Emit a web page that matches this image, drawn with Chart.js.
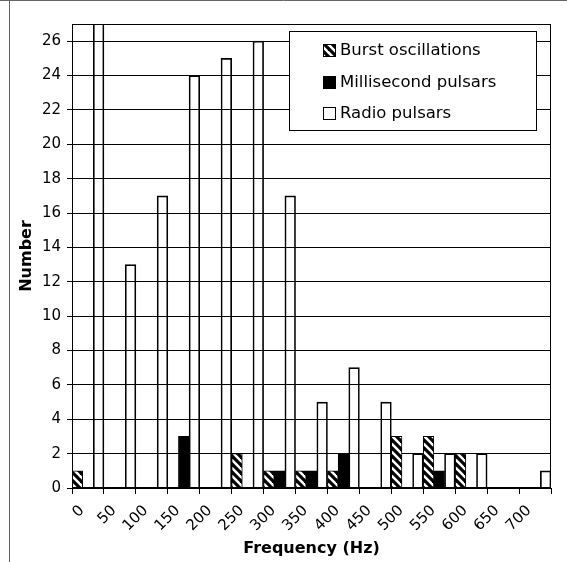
<!DOCTYPE html>
<html>
<head>
<meta charset="utf-8">
<title>Frequency histogram</title>
<script src="https://cdn.jsdelivr.net/npm/chart.js@4.4.1/dist/chart.umd.min.js"></script>
<style>
  html, body { margin: 0; padding: 0; background: #fff; }
  #wrap { width: 567px; height: 562px; position: relative; }
</style>
</head>
<body>
<div id="wrap"><canvas id="histo"></canvas></div>
<script>
'use strict';

// Frecuencias (Hz), inicio de cada intervalo
const frecuencias = ['0', '50', '100', '150', '200', '250', '300', '350', '400', '450', '500', '550', '600', '650', '700'];

// Burst oscillations
const burst = [1, 0, 0, 0, 0, 2, 1, 1, 1, 0, 3, 3, 2, 0, 0];
// Millisecond pulsars
const milisegundo = [0, 0, 0, 3, 0, 0, 1, 1, 2, 0, 0, 1, 0, 0, 0];
// Radio pulsars (el primero se sale del grafico)
const radio = [30, 13, 17, 24, 25, 26, 17, 5, 7, 5, 2, 2, 2, 0, 1];

const yMax = 27;
const yPaso = 2;

Chart.defaults.font.family = '"DejaVu Sans", Verdana, sans-serif';
Chart.defaults.color = '#000';

//rayado tipo "\"
function crearRayado() {
    let c = document.createElement('canvas');
    c.width = 8;
    c.height = 8;
    let g = c.getContext('2d');
    g.fillStyle = '#fff';
    g.fillRect(0, 0, 8, 8);
    g.strokeStyle = '#000';
    g.lineWidth = 3.2;
    for (let x of [-8, 0, 8]) {
        g.beginPath();
        g.moveTo(x - 2, -2);
        g.lineTo(x + 10, 10);
        g.stroke();
    }
    return g.createPattern(c, 'repeat');
}

const rayado = crearRayado();

//marco exterior, borde del area y leyenda
const marcoPlugin = {
    id: 'marco',
    beforeDraw(chart) {
        let ctx = chart.ctx;
        ctx.save();
        ctx.fillStyle = '#fff';
        ctx.fillRect(0, 0, chart.width, chart.height);
        ctx.strokeStyle = '#666';
        ctx.lineWidth = 1;
        ctx.beginPath();
        ctx.moveTo(0, 0.5);
        ctx.lineTo(chart.width, 0.5);
        ctx.moveTo(9.5, 0);
        ctx.lineTo(9.5, chart.height);
        ctx.stroke();
        ctx.restore();
    },
    afterDraw(chart) {
        let ctx = chart.ctx;
        let a = chart.chartArea;
        ctx.save();
        ctx.strokeStyle = '#000';
        ctx.lineWidth = 1;
        ctx.strokeRect(Math.round(a.left) + 0.5, Math.round(a.top) + 0.5,
            Math.round(a.right - a.left) - 1, Math.round(a.bottom - a.top) - 1);

        // leyenda
        let x0 = Math.round(a.right) - 262;
        let y0 = Math.round(a.top) + 7;
        ctx.fillStyle = '#fff';
        ctx.fillRect(x0, y0, 247, 99);
        ctx.strokeRect(x0 + 0.5, y0 + 0.5, 247, 99);
        ctx.font = '16.5px "DejaVu Sans"';
        ctx.textBaseline = 'middle';
        chart.data.datasets.forEach((ds, i) => {
            let cy = Math.round(y0 + 19 + i * 31.5);
            let mx = x0 + 34;
            ctx.fillStyle = '#fff';
            ctx.fillRect(mx, cy - 6, 13, 13);
            ctx.fillStyle = ds.backgroundColor;
            ctx.fillRect(mx, cy - 6, 13, 13);
            ctx.strokeRect(mx + 0.5, cy - 5.5, 12, 12);
            ctx.fillStyle = '#000';
            ctx.fillText(ds.label, mx + 17, cy + 1);
        });
        ctx.restore();
    }
};

new Chart('histo', {
    type: 'bar',
    data: {
        labels: frecuencias,
        datasets: [{
            label: 'Burst oscillations',
            data: burst,
            backgroundColor: rayado,
            borderColor: '#000',
            borderWidth: 1
        }, {
            label: 'Millisecond pulsars',
            data: milisegundo,
            backgroundColor: '#000',
            borderColor: '#000',
            borderWidth: 1
        }, {
            label: 'Radio pulsars',
            data: radio,
            backgroundColor: 'rgba(255,255,255,0)',
            borderColor: '#000',
            borderWidth: 1
        }]
    },
    options: {
        responsive: true,
        maintainAspectRatio: false,
        animation: false,
        layout: {
            padding: { top: 24, right: 16, left: 13, bottom: 0 }
        },
        datasets: {
            bar: { categoryPercentage: 1, barPercentage: 1 }
        },
        plugins: {
            legend: { display: false },
            tooltip: { enabled: false }
        },
        scales: {
            x: {
                offset: true,
                grid: {
                    offset: true,
                    drawOnChartArea: false,
                    color: '#000',
                    tickLength: 6
                },
                border: { color: '#000' },
                ticks: {
                    autoSkip: false,
                    minRotation: 45,
                    maxRotation: 45,
                    labelOffset: -6,
                    padding: 8,
                    font: { size: 15 }
                },
                title: {
                    display: true,
                    text: 'Frequency (Hz)',
                    font: { size: 16, weight: 'bold' },
                    padding: { top: 4, bottom: 4 }
                },
                afterFit(s) { s.height = 74; }
            },
            y: {
                min: 0,
                max: yMax,
                grid: {
                    color: '#000',
                    tickLength: 5
                },
                border: { color: '#000' },
                ticks: {
                    stepSize: yPaso,
                    includeBounds: false,
                    padding: 6,
                    font: { size: 15 }
                },
                title: {
                    display: true,
                    text: 'Number',
                    font: { size: 16, weight: 'bold' },
                    padding: { top: 4, bottom: 4 }
                },
                afterFit(s) { s.width = 59; }
            }
        }
    },
    plugins: [marcoPlugin]
});
</script>
</body>
</html>
